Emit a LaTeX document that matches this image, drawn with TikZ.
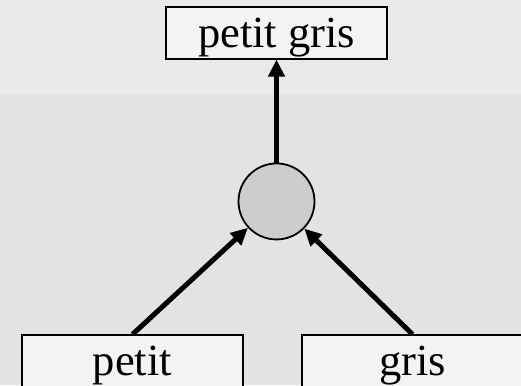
\documentclass[tikz,border=0pt]{standalone}
\usepackage{fontspec}
\setmainfont{Liberation Serif}
\usetikzlibrary{arrows.meta, positioning}

\definecolor{fondmarbre}{RGB}{227,227,227}
\definecolor{fondhaut}{RGB}{233,233,233}
\definecolor{fondboite}{RGB}{243,243,243}
\definecolor{fondnoeud}{RGB}{205,205,205}

\begin{document}
\begin{tikzpicture}[
    x=1pt, y=-1pt,
    % Espacement entre le noeud et les mots simples
    node distance=94pt,
    mot/.style={rectangle, draw=black, line width=1.6pt, fill=fondboite, minimum width=221pt, inner sep=0pt, text height=40.5pt, text depth=11pt, font=\fontsize{44.5}{50}\selectfont},
    noeud/.style={circle, draw=black, line width=1.8pt, fill=fondnoeud, minimum size=76pt, inner sep=0pt},
    fleche/.style={-{Triangle[length=17pt, width=16pt]}, line width=5pt}
]

% Fond
\useasboundingbox (0,0) rectangle (521,385);
\fill[fondmarbre] (0,0) rectangle (521,385);
\fill[fondhaut] (0,0) rectangle (521,95);

% 1. Mot composé
\node[mot] (composition) at (276.5,33) {petit gris};

% 2. Noeud de composition
\node[noeud, below=103pt of composition] (fusion) {};

% 3. Mots simples
\node[mot, below=94pt of fusion, xshift=-144pt] (petit) {petit};
\node[mot, below=94pt of fusion, xshift=136pt] (gris) {gris};

% 4. Flèches
\draw[fleche] (fusion) -- (composition);
\draw[fleche] (petit.north) -- (fusion);
\draw[fleche] (gris.north) -- (fusion);

\end{tikzpicture}
\end{document}
